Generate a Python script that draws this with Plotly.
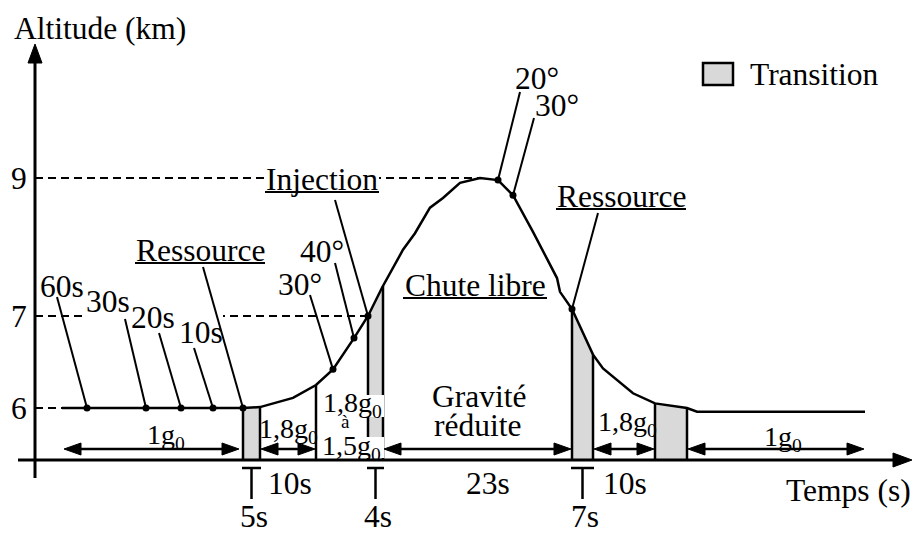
import numpy as np
import plotly.graph_objects as go

# ---------------------------------------------------------------------------
# Parabolic flight profile (schematic).  x runs along the time axis of the
# diagram, altitudes are in km.
# ---------------------------------------------------------------------------
profile_x = [62, 243, 260, 293, 316, 333, 354, 368, 382, 403, 415, 430, 443, 460, 480,
             498, 513, 533, 557, 560, 572, 593, 603, 613, 633, 655, 687, 697, 865]
profile_alt = [6.00, 6.00, 6.01, 6.11, 6.25, 6.42, 6.76, 7.00, 7.41, 7.96, 8.20, 8.57, 8.71,
               8.93, 9.00, 8.97, 8.75, 8.22, 7.55, 7.35, 7.10, 6.58, 6.43, 6.34, 6.16, 6.05,
               6.00, 5.96, 5.96]

# Altitude ticks
alt_ticks = [6, 7, 9]
alt_tick_labels = ["6", "7", "9"]

# Marked instants on the profile
mark_x = [87, 146, 181, 213, 243, 333, 354, 368, 498, 513, 572]
mark_labels = ["60s", "30s", "20s", "10s", "Ressource", "30°", "40°", "Injection",
               "20°", "30°", "Ressource"]

# Transition phases (grey) and their durations
transition_x0 = [243, 368, 572, 655]
transition_x1 = [260, 383, 593, 687]
transition_durations = ["5s", "4s", "7s", ""]

# Flight phases between the transitions
phase_x0 = [63, 260, 383, 593, 687]
phase_x1 = [240, 316, 572, 655, 865]
phase_durations = ["", "10s", "23s", "10s", ""]

# ---------------------------------------------------------------------------
# Diagram geometry (y grows downward)
# ---------------------------------------------------------------------------
W, H = 916, 533
AXIS_X = 35          # vertical axis
AXIS_Y = 460         # time axis
ARROW_ROW = 449      # phase double arrows
ALT_ANCHORS = [5, 6, 7, 9, 10]
ROW_ANCHORS = [500, 408, 316, 178, 109]


def alt_row(a):
    return np.interp(a, ALT_ANCHORS, ROW_ANCHORS)


prof_x = np.array(profile_x, dtype=float)
prof_y = alt_row(np.array(profile_alt, dtype=float))


def curve_row(x):
    return float(np.interp(x, prof_x, prof_y))


FONT = "Liberation Serif, Tinos, Times New Roman, DejaVu Serif, serif"
FS = 31.5
FS_G = 28
GREY = "#d9d9d9"
shapes = []
annotations = []


def line(x0, y0, x1, y1, width=2.5, dash=None):
    shapes.append(dict(type="line", x0=x0, y0=y0, x1=x1, y1=y1, xref="x", yref="y",
                       line=dict(color="black", width=width, dash=dash)))


def blank(x0, x1, y0, y1):
    # white patch behind a label, drawn under the leader lines
    shapes.append(dict(type="rect", x0=x0, x1=x1, y0=y0, y1=y1, xref="x", yref="y",
                       fillcolor="white", line=dict(width=0)))


def head(tx, ty, dx, dy, length=17, half=6):
    # filled triangular arrow head with its tip at (tx, ty) pointing along (dx, dy)
    bx, by = tx - dx * length, ty - dy * length
    px, py = -dy, dx
    path = (f"M {tx},{ty} L {bx + px * half},{by + py * half} "
            f"L {bx - px * half},{by - py * half} Z")
    shapes.append(dict(type="path", path=path, xref="x", yref="y",
                       fillcolor="black", line=dict(color="black", width=1)))


def text(x, y, s, size=FS, anchor="center"):
    annotations.append(dict(x=x, y=y, xref="x", yref="y", text=s, showarrow=False,
                            xanchor=anchor, yanchor="middle",
                            font=dict(family=FONT, size=size, color="black")))


fig = go.Figure()

# grey transition areas under the profile
for a, b in zip(transition_x0, transition_x1):
    inner = [x for x in profile_x if a < x < b]
    xs = [a] + inner + [b]
    ys = [curve_row(x) for x in xs]
    fig.add_trace(go.Scatter(x=xs + [b, a], y=ys + [AXIS_Y, AXIS_Y], fill="toself",
                             fillcolor=GREY, mode="lines", line=dict(width=0),
                             hoverinfo="skip", showlegend=False))
    line(a, curve_row(a), a, AXIS_Y)
    line(b, curve_row(b), b, AXIS_Y)

# boundary between the 1,8g0 and 1,8g0 -> 1,5g0 phases
line(phase_x1[1], curve_row(phase_x1[1]), phase_x1[1], AXIS_Y)

# dashed altitude guides up to the first point reaching each level
for a, lab in zip(alt_ticks, alt_tick_labels):
    idx = next(i for i, v in enumerate(profile_alt) if v >= a - 1e-9)
    if idx == 0:
        xe = profile_x[0]
    else:
        xe = float(np.interp(a, [profile_alt[idx - 1], profile_alt[idx]],
                             [profile_x[idx - 1], profile_x[idx]]))
    line(AXIS_X, alt_row(a), xe, alt_row(a), width=2, dash="8px,5px")
    text(19, alt_row(a), lab)

# white patches behind labels that sit on guides or on the grey bar
blank(85, 223, 311, 321)      # 30s / 20s / 10s over the 7 km guide
blank(264, 379, 171, 186)     # Injection over the 9 km guide
blank(321, 384, 395, 417)     # 1,8g0 over the grey bar
blank(319, 384, 437, 458)     # 1,5g0 over the grey bar

# profile curve
fig.add_trace(go.Scatter(x=profile_x, y=prof_y, mode="lines",
                         line=dict(color="black", width=2.5),
                         hoverinfo="skip", showlegend=False))

# marked points with leader lines
label_pos = [(62, 286), (108, 301), (153, 317), (201, 332), (200, 250), (300, 284),
             (322, 251), (322, 179), (537, 78), (557, 105), (621, 196)]
leader_from = [(57, 297), (125, 319), (159, 333), (194, 348), (203, 267), (310, 295),
               (335, 263), (335, 200), (520, 92), (534, 118), (598, 213)]
underlined = {"Ressource": 65, "Injection": 57}
mark_y = [curve_row(x) for x in mark_x]
for x, y, lab, (lx, ly), (fx, fy) in zip(mark_x, mark_y, mark_labels, label_pos, leader_from):
    line(fx, fy, x, y, width=2)
    text(lx, ly, lab)
    if lab in underlined:
        hw = underlined[lab]
        line(lx - hw, ly + 13, lx + hw, ly + 13, width=2)
fig.add_trace(go.Scatter(x=mark_x, y=mark_y, mode="markers",
                         marker=dict(color="black", size=7),
                         hoverinfo="skip", showlegend=False))

# phase double arrows
for a, b in zip(phase_x0, phase_x1):
    line(a + 10, ARROW_ROW, b - 10, ARROW_ROW, width=2.5)
    head(a + 1, ARROW_ROW, -1, 0)
    head(b - 1, ARROW_ROW, 1, 0)

# phase labels
sub0 = "<sub>0</sub>"
text(166, 436, "1g" + sub0, size=FS_G)
text(288, 430, "1,8g" + sub0, size=FS_G)
text(352, 404, "1,8g" + sub0, size=FS_G)
text(345, 421, "à", size=19)
text(351, 447, "1,5g" + sub0, size=FS_G)
text(479, 396, "Gravité")
text(477, 425, "réduite")
text(627, 423, "1,8g" + sub0, size=FS_G)
text(783, 438, "1g" + sub0, size=FS_G)
text(475, 285, "Chute libre")
line(403, 298, 547, 298, width=2)

# durations of the flight phases
duration_label_x = [None, 290, 488, 625, None]
for lab, lx in zip(phase_durations, duration_label_x):
    if lab:
        text(lx, 483, lab)

# durations of the transitions (T marks)
for a, b, lab in zip(transition_x0, transition_x1, transition_durations):
    if lab:
        c = (a + b) / 2
        line(a - 1, 468, b + 1, 468, width=2.5)
        line(c, 468, c, 499, width=2.5)
        text(c + 2, 516, lab)

# axes
line(AXIS_X, 478, AXIS_X, 60, width=3)
head(AXIS_X, 44, 0, -1, length=19, half=7)
line(18, AXIS_Y, 896, AXIS_Y, width=3)
head(912, AXIS_Y, 1, 0, length=19, half=7)
text(12, 28, "Altitude (km)", anchor="left")
text(848, 490, "Temps (s)")

# legend
shapes.append(dict(type="rect", x0=703, y0=63, x1=733, y1=85, xref="x", yref="y",
                   fillcolor=GREY, line=dict(color="black", width=2.5)))
text(748, 74, "Transition", anchor="left")

fig.update_layout(
    width=W, height=H,
    margin=dict(l=0, r=0, t=0, b=0),
    paper_bgcolor="white", plot_bgcolor="white",
    xaxis=dict(range=[0, W], visible=False, fixedrange=True),
    yaxis=dict(range=[H, 0], visible=False, fixedrange=True),
    shapes=shapes, annotations=annotations, showlegend=False,
)

fig.write_html("out.html", config={"displayModeBar": False})
